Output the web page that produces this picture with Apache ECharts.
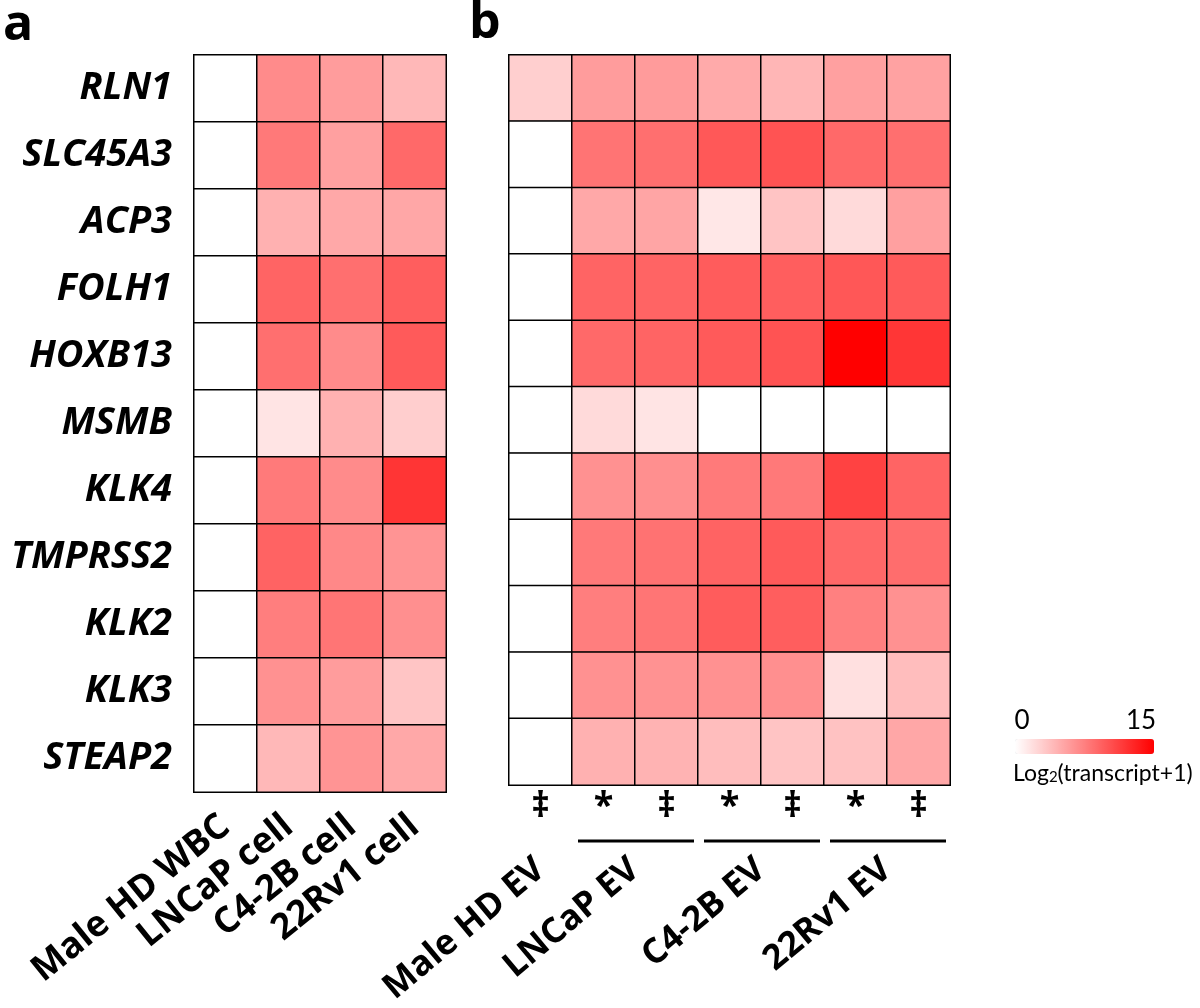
<!DOCTYPE html>
<html>
<head>
<meta charset="utf-8">
<script src="https://cdn.jsdelivr.net/npm/echarts@6/dist/echarts.min.js"></script>
<style>html,body{margin:0;padding:0;background:#fff}#c{width:1200px;height:1008px}</style>
</head>
<body>
<div id="c"></div>
<script>
// ---- data ----
const genes = ['RLN1','SLC45A3','ACP3','FOLH1','HOXB13','MSMB','KLK4','TMPRSS2','KLK2','KLK3','STEAP2'];
const colsA = ['Male HD WBC','LNCaP cell','C4-2B cell','22Rv1 cell'];
const colsB = ['‡','*','‡','*','‡','*','‡'];
const groupNamesB = ['Male HD EV','LNCaP EV','C4-2B EV','22Rv1 EV'];
const groupPosB = [0, 1.5, 3.5, 5.5];
const groupPairsB = [[1,2],[3,4],[5,6]];

// panel a: log2(transcript+1)
const hdWBC     = [0,0,0,0,0,0,0,0,0,0,0];
const lncapCell = [6.8,7.9,4.6,9.1,8.5,1.6,7.8,9.2,7.6,6.5,4.2];
const c42bCell  = [5.8,5.6,5.1,8.5,6.8,4.6,6.8,7.0,8.1,5.8,6.3];
const rv1Cell   = [4.2,8.8,5.2,9.5,9.7,2.9,11.9,6.3,6.6,3.4,5.1];
// panel b
const hdEV      = [2.8,0,0,0,0,0,0,0,0,0,0];
const lncapEVs  = [5.8,8.2,5.1,9.1,8.8,2.2,6.5,7.9,7.6,6.5,4.6];
const lncapEVd  = [5.9,8.5,5.3,9.1,9.1,1.6,6.6,8.3,8.1,6.4,4.5];
const c42bEVs   = [5.0,9.8,1.4,9.6,9.7,0,7.8,9.2,9.6,6.5,3.9];
const c42bEVd   = [4.3,10.1,3.5,9.5,10.1,0,7.9,9.7,9.5,6.6,3.5];
const rv1EVs    = [5.6,8.8,2.2,9.9,15,0,11.1,8.9,7.5,1.8,3.6];
const rv1EVd    = [5.5,8.5,5.6,9.7,11.8,0,9.1,8.6,6.5,3.9,5.2];
const scaleMin = 0, scaleMax = 15;

function build(cols){
  const out=[];
  cols.forEach((col,ci)=>col.forEach((v,gi)=>out.push([ci,gi,v])));
  return out;
}
const dataA = build([hdWBC,lncapCell,c42bCell,rv1Cell]);
const dataB = build([hdEV,lncapEVs,lncapEVd,c42bEVs,c42bEVd,rv1EVs,rv1EVd]);

const FONT = '"Open Sans", "DejaVu Sans", sans-serif';
const LFONT = 'Lato, "Open Sans", sans-serif';
const chart = echarts.init(document.getElementById('c'), null, {renderer:'canvas'});
const cellStyle = {borderColor:'#000', borderWidth:1.5};

chart.setOption({
  animation:false,
  backgroundColor:'#fff',
  grid:[
    {left:194, top:55, width:252, height:737},
    {left:509, top:55, width:441, height:737}
  ],
  xAxis:[
    {type:'category', gridIndex:0, data:colsA, position:'bottom',
     axisLine:{show:false}, axisTick:{show:false}, splitLine:{show:false},
     axisLabel:{rotate:39, margin:30, interval:0, color:'#000', fontFamily:FONT, fontWeight:'bold', fontSize:36}},
    {type:'category', gridIndex:1, data:colsB, position:'bottom',
     axisLine:{show:false}, axisTick:{show:false}, splitLine:{show:false},
     axisLabel:{margin:4, interval:0, color:'#000', fontFamily:FONT, fontWeight:'bold', fontSize:36}},
    {type:'value', gridIndex:1, min:-0.5, max:6.5, interval:0.5, position:'bottom',
     axisLine:{show:false}, axisTick:{show:false}, splitLine:{show:false},
     axisLabel:{rotate:40, margin:80, color:'#000', fontFamily:FONT, fontWeight:'bold', fontSize:35,
       showMinLabel:true, showMaxLabel:true,
       formatter:(v)=>{const i=groupPosB.findIndex(p=>Math.abs(p-v)<1e-6);return i>=0?groupNamesB[i]:'';}}}
  ],
  yAxis:[
    {type:'category', gridIndex:0, data:genes, inverse:true,
     axisLine:{show:false}, axisTick:{show:false}, splitLine:{show:false},
     axisLabel:{margin:22, color:'#000', fontFamily:FONT, fontWeight:'bold', fontStyle:'italic', fontSize:38}},
    {type:'category', gridIndex:1, data:genes, inverse:true,
     axisLine:{show:false}, axisTick:{show:false}, splitLine:{show:false}, axisLabel:{show:false}}
  ],
  visualMap:{
    type:'continuous', min:scaleMin, max:scaleMax, seriesIndex:[0,1],
    orient:'horizontal', left:1015, top:739, itemWidth:15, itemHeight:139,
    padding:0, calculable:false, showLabel:false, text:['',''],
    inRange:{color:['#ffffff','#ff0000']}
  },
  series:[
    {type:'heatmap', xAxisIndex:0, yAxisIndex:0, data:dataA, itemStyle:cellStyle, emphasis:{disabled:true}},
    {type:'heatmap', xAxisIndex:1, yAxisIndex:1, data:dataB, itemStyle:cellStyle, emphasis:{disabled:true}},
    {type:'custom', xAxisIndex:1, yAxisIndex:1, clip:false, silent:true,
     data:groupPairsB,
     renderItem:(params, api)=>{
       const cs = params.coordSys;
       const w = api.size([1,0])[0];
       const x0 = api.coord([api.value(0), 0])[0] - w/2 + 6;
       const x1 = api.coord([api.value(1), 0])[0] + w/2 - 4;
       const y = cs.y + cs.height + 56;
       return {type:'line', shape:{x1:x0, y1:y, x2:x1, y2:y}, style:{stroke:'#000', lineWidth:3}};
     }}
  ],
  graphic:[
    {type:'text', x:3, y:26, style:{text:'a', font:'bold 50px '+FONT, fill:'#000', textVerticalAlign:'middle'}},
    {type:'text', x:469, y:24, style:{text:'b', font:'bold 50px '+FONT, fill:'#000', textVerticalAlign:'middle'}},
    {type:'text', x:1022, y:721, style:{text:String(scaleMin), font:'26px '+LFONT, fill:'#000', textAlign:'center', textVerticalAlign:'middle'}},
    {type:'text', x:1141, y:721, style:{text:String(scaleMax), font:'26px '+LFONT, fill:'#000', textAlign:'center', textVerticalAlign:'middle'}},
    {type:'text', x:1013, y:755, style:{
      text:'{n|Log}{s|2}{n|(transcript+1)}',
      rich:{n:{fontSize:23, fontFamily:LFONT, fill:'#000', lineHeight:30, verticalAlign:'bottom'},
            s:{fontSize:15, fontFamily:LFONT, fill:'#000', lineHeight:12, verticalAlign:'bottom'}}}}
  ]
});
</script>
</body>
</html>
